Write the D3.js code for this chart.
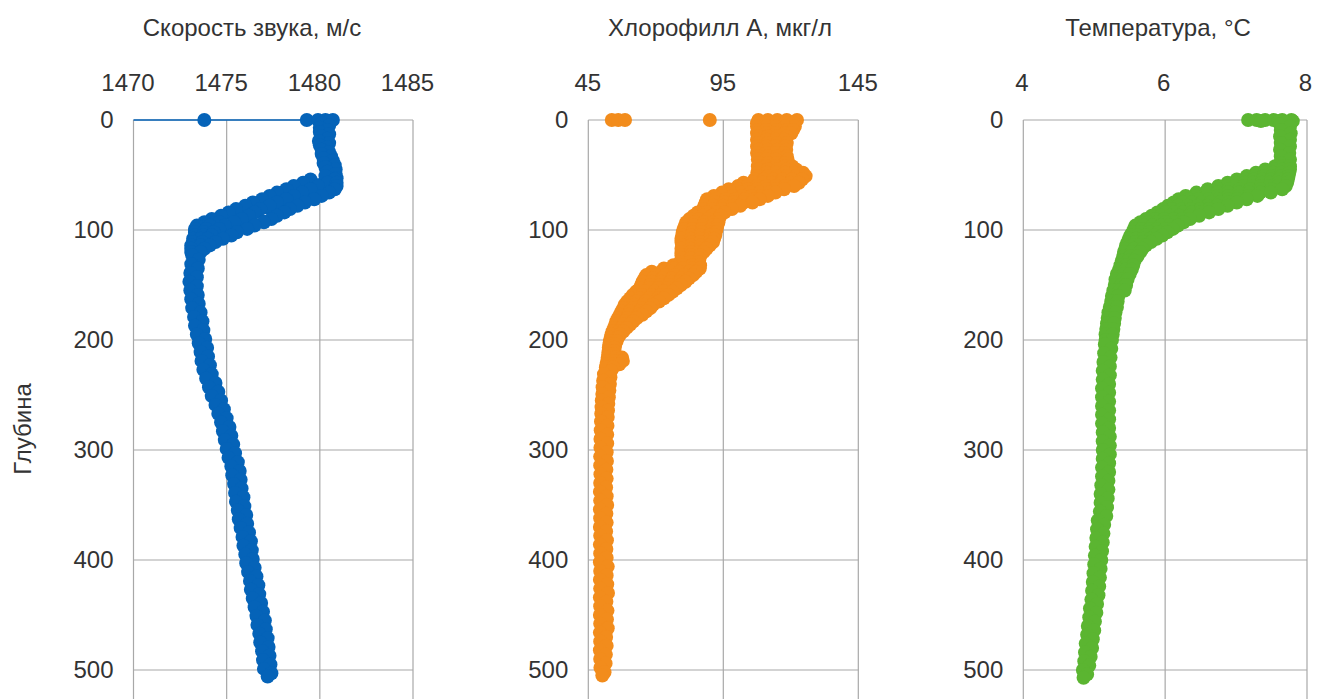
<!DOCTYPE html>
<html>
<head>
<meta charset="utf-8">
<script src="https://cdn.jsdelivr.net/npm/d3@7"></script>
<style>
    body { margin: 0; background: #fff; }
    text { font-family: "Liberation Sans", Arial, sans-serif; fill: #333; }
</style>
</head>
<body>
<svg class="profiles" width="1317" height="699"></svg>
<script>
// Axis ticks.
const depthTicks = [0, 100, 200, 300, 400, 500];
const speedTicks = [1470, 1475, 1480, 1485];
const chlTicks = [45, 95, 145];
const tempTicks = [4, 6, 8];

// Profiles as [depth, value].
const speedProfile = [
    [0, 1466], [0, 1473.8], [0, 1479.3], [0, 1479.9], [0, 1480.3], [0, 1480.7], [1, 1480.5],
    [3, 1480.1], [5, 1480.5], [7, 1480.0], [9, 1480.4], [11, 1480.0], [13, 1480.5], [15, 1480.1],
    [17, 1480.4], [19, 1479.95], [21, 1480.5], [23, 1480.0], [25, 1480.4], [27, 1480.1], [29, 1480.5],
    [31, 1480.1], [33, 1480.6], [35, 1480.2], [37, 1480.7], [39, 1480.2], [41, 1480.8], [43, 1480.3],
    [45, 1480.85], [47, 1480.4], [49, 1480.85], [51, 1480.3], [53, 1480.9],
    [54, 1479.5], [54, 1480.8],
    [57, 1479.1], [57, 1480.4], [57, 1480.9],
    [60, 1478.6], [60, 1479.9], [60, 1480.9],
    [63, 1478.2], [63, 1479.5], [63, 1480.8],
    [66, 1477.7], [66, 1479.05], [66, 1480.5],
    [69, 1477.3], [69, 1478.6], [69, 1480.1],
    [72, 1476.9], [72, 1478.2], [72, 1479.7],
    [75, 1476.4], [75, 1477.7], [75, 1479.2],
    [78, 1476.0], [78, 1477.3], [78, 1478.8],
    [81, 1475.5], [81, 1476.8], [81, 1478.4],
    [84, 1475.1], [84, 1476.5], [84, 1478.1],
    [87, 1474.7], [87, 1476.2], [87, 1477.7],
    [90, 1474.2], [90, 1475.8], [90, 1477.4],
    [93, 1473.8], [93, 1474.6], [93, 1475.4], [93, 1477.0],
    [96, 1473.4], [96, 1474.1], [96, 1474.9], [96, 1476.5],
    [99, 1473.3], [99, 1473.9], [99, 1474.6], [99, 1476.1],
    [102, 1473.3], [102, 1473.8], [102, 1474.3], [102, 1475.55],
    [105, 1473.3], [105, 1473.75], [105, 1474.2], [105, 1475.25],
    [108, 1473.2], [108, 1473.6], [108, 1474.0], [108, 1474.8],
    [111, 1473.2], [111, 1473.7], [111, 1474.4], [114, 1473.1], [114, 1473.6], [114, 1474.1],
    [117, 1473.1], [117, 1473.8], [120, 1473.1], [120, 1473.6],
    [123, 1473.15], [127, 1473.5], [131, 1473.1], [135, 1473.45], [139, 1473.05], [143, 1473.4],
    [147, 1473.0], [151, 1473.4], [155, 1473.05], [159, 1473.45], [163, 1473.1], [167, 1473.5],
    [171, 1473.15], [175, 1473.6], [179, 1473.25], [183, 1473.7], [187, 1473.3], [191, 1473.75],
    [195, 1473.4], [199, 1473.85], [203, 1473.5], [207, 1473.95], [211, 1473.6], [215, 1474.0],
    [219, 1473.65], [223, 1474.1], [227, 1473.75], [231, 1474.2], [235, 1473.9], [239, 1474.4],
    [243, 1474.05], [247, 1474.55], [251, 1474.2], [255, 1474.7], [259, 1474.4], [263, 1474.85],
    [267, 1474.55], [271, 1475.0], [275, 1474.7], [279, 1475.15], [283, 1474.8], [287, 1475.25],
    [291, 1474.9], [295, 1475.35], [299, 1475.0], [303, 1475.45], [307, 1475.1], [311, 1475.6],
    [315, 1475.25], [319, 1475.7], [323, 1475.3], [327, 1475.75], [331, 1475.4], [335, 1475.8],
    [339, 1475.45], [343, 1475.9], [347, 1475.5], [351, 1475.95], [355, 1475.6], [359, 1476.05],
    [363, 1475.65], [367, 1476.1], [371, 1475.75], [375, 1476.2], [379, 1475.85], [383, 1476.3],
    [387, 1475.9], [391, 1476.35], [395, 1476.0], [399, 1476.4], [403, 1476.05], [407, 1476.5],
    [411, 1476.15], [415, 1476.6], [419, 1476.25], [423, 1476.7], [427, 1476.3], [431, 1476.75],
    [435, 1476.4], [439, 1476.85], [443, 1476.5], [447, 1476.95], [451, 1476.6], [455, 1477.05],
    [459, 1476.65], [463, 1477.1], [467, 1476.75], [471, 1477.2], [475, 1476.8], [479, 1477.25],
    [483, 1476.9], [487, 1477.3], [491, 1476.95], [495, 1477.35], [499, 1477.0], [503, 1477.4],
    [506, 1477.2]
];

const chlProfile = [
    [0, 53.7], [0, 56.1], [0, 58.6], [0, 90], [0, 108], [0, 111.5], [0, 115], [0, 118.5], [0, 122.3],
    [3, 107.5], [3, 111], [3, 114.5], [3, 118], [3, 121],
    [6, 107.5], [6, 111], [6, 114.5], [6, 118], [6, 121.5],
    [9, 107.8], [9, 111], [9, 115], [9, 118.5], [9, 120.8],
    [12, 107.5], [12, 111], [12, 114.5], [12, 118], [12, 120.2],
    [15, 108], [15, 111.5], [15, 115], [15, 118.5],
    [18, 107.5], [18, 111], [18, 114.5], [18, 117.8],
    [21, 107.8], [21, 111.5], [21, 115], [21, 118.5],
    [24, 107.5], [24, 111], [24, 114.5], [24, 118],
    [27, 108], [27, 111.5], [27, 115], [27, 118.3],
    [30, 107.5], [30, 111], [30, 114.5], [30, 117.5],
    [33, 108], [33, 111.5], [33, 115], [33, 118.5],
    [36, 107.8], [36, 111], [36, 114.5], [36, 118.8],
    [39, 108.2], [39, 111.5], [39, 115], [39, 118],
    [42, 107.8], [42, 111], [42, 114.5], [42, 118], [42, 120.5],
    [45, 108], [45, 111.5], [45, 115], [45, 118.5], [45, 122],
    [48, 107.6], [48, 111], [48, 114.5], [48, 118], [48, 121.5], [48, 124.5],
    [51, 108], [51, 111.5], [51, 115], [51, 118.5], [51, 122], [51, 125.5],
    [54, 106.5], [54, 110], [54, 113.5], [54, 117], [54, 120.5], [54, 124.2],
    [57, 102.5], [57, 106], [57, 109.5], [57, 113], [57, 116.5], [57, 120], [57, 123],
    [60, 100.5], [60, 104], [60, 107.5], [60, 111], [60, 114.5], [60, 118], [60, 121.2],
    [63, 97], [63, 100.5], [63, 104], [63, 107.5], [63, 111], [63, 114.5], [63, 117.5],
    [66, 94.5], [66, 98], [66, 101.5], [66, 105], [66, 108.5], [66, 112], [66, 114.3],
    [69, 91.5], [69, 95], [69, 98.5], [69, 102], [69, 105.5], [69, 109], [69, 111.5],
    [72, 89], [72, 92.5], [72, 96], [72, 99.5], [72, 103], [72, 106.5], [72, 108.5],
    [75, 88.5], [75, 92], [75, 95.5], [75, 99], [75, 102.5], [75, 105.8],
    [78, 88], [78, 91.5], [78, 95], [78, 98.5], [78, 101.3],
    [81, 87.5], [81, 91], [81, 94.5], [81, 98.2],
    [84, 85.5], [84, 89], [84, 92.5], [84, 95.5],
    [87, 84], [87, 87.5], [87, 91], [87, 94],
    [90, 82.5], [90, 86], [90, 89.5], [90, 93.3],
    [93, 81.3], [93, 84.5], [93, 88], [93, 91.5], [93, 93.2],
    [96, 80.8], [96, 84], [96, 87.5], [96, 91], [96, 92.8],
    [99, 80.3], [99, 83.5], [99, 87], [99, 90.5], [99, 92.5],
    [102, 80], [102, 83.5], [102, 87], [102, 90.5], [102, 92.2],
    [105, 79.8], [105, 83], [105, 86.5], [105, 90], [105, 92],
    [108, 79.5], [108, 83], [108, 86.5], [108, 89.8], [108, 91.6],
    [111, 79.5], [111, 83], [111, 86.5], [111, 89.8], [111, 91.2],
    [114, 79.8], [114, 83], [114, 86.5], [114, 90],
    [117, 79.5], [117, 83], [117, 86.5], [117, 88.8],
    [120, 79.5], [120, 83], [120, 86], [120, 87.7],
    [123, 79.5], [123, 83], [123, 86.5],
    [126, 79.8], [126, 83], [126, 86.2],
    [129, 79], [129, 82.5], [129, 86],
    [132, 76.5], [132, 80], [132, 83.5], [132, 86.4],
    [135, 73], [135, 76.5], [135, 80], [135, 83.5], [135, 86.3],
    [138, 68.5], [138, 72], [138, 75.5], [138, 79], [138, 82.5], [138, 85],
    [141, 66.5], [141, 70], [141, 73.5], [141, 77], [141, 80.5], [141, 83.8],
    [144, 65.8], [144, 69], [144, 72.5], [144, 76], [144, 79.5], [144, 82.3],
    [147, 65.1], [147, 68.5], [147, 72], [147, 75.5], [147, 79], [147, 81],
    [150, 64.6], [150, 68], [150, 71.5], [150, 75], [150, 79.3],
    [153, 64.1], [153, 67.5], [153, 71], [153, 74.5], [153, 77.8],
    [156, 62.7], [156, 66], [156, 69.5], [156, 73], [156, 76.3],
    [159, 61.5], [159, 65], [159, 68.5], [159, 71.8], [159, 74.7],
    [162, 60.5], [162, 64], [162, 67.5], [162, 71], [162, 73],
    [165, 59.4], [165, 62.8], [165, 66.3], [165, 69.8], [165, 71.2],
    [168, 58.5], [168, 62], [168, 65.5], [168, 69],
    [171, 58], [171, 61.5], [171, 65], [171, 68],
    [174, 57.3], [174, 60.5], [174, 64], [174, 66.5],
    [177, 56.7], [177, 60], [177, 63.5], [177, 65],
    [180, 56], [180, 59.5], [180, 63],
    [183, 55.4], [183, 58.5], [183, 61.7],
    [186, 55], [186, 57.8], [186, 60.5],
    [189, 54.5], [189, 57.2], [189, 59.2],
    [192, 54], [192, 56.5], [192, 58],
    [195, 53.6], [195, 56.8], [198, 53.3], [198, 56], [201, 53], [201, 55.5],
    [204, 52.8], [204, 55], [207, 52.6], [207, 54.8], [210, 52.5], [210, 54.7],
    [213, 52.4], [213, 54.5], [216, 52.2], [216, 55], [216, 57.5],
    [219, 52], [219, 55], [219, 57.8], [222, 51.8], [222, 54.5], [222, 56.5],
    [225, 51.5], [225, 54.2],
    [228, 53.5], [231, 50.8], [234, 53.2], [237, 50.5], [240, 53], [243, 50.3], [246, 52.8],
    [249, 50.2], [252, 52.6], [255, 50], [258, 52.4], [261, 49.9], [264, 52.3], [267, 49.8],
    [270, 52.2], [274, 49.7], [278, 52.1], [282, 49.6], [286, 52], [290, 49.5], [294, 52],
    [298, 49.5], [302, 51.8], [306, 49.4], [310, 51.9], [314, 49.4], [318, 51.7], [322, 49.5],
    [326, 51.8], [330, 49.4], [334, 51.6], [338, 49.3], [342, 51.8], [346, 49.4], [350, 52],
    [354, 49.3], [358, 51.7], [362, 49.4], [366, 51.8], [370, 49.3], [374, 51.6], [378, 49.4],
    [382, 51.9], [386, 49.3], [390, 51.7], [394, 49.4], [398, 51.8], [402, 49.3], [406, 52.2],
    [410, 49.4], [414, 51.8], [418, 49.3], [422, 52], [426, 49.4], [430, 52.3], [434, 49.3],
    [438, 51.7], [442, 49.4], [446, 52.1], [450, 49.3], [454, 51.9], [458, 49.4], [462, 52.2],
    [466, 49.3], [470, 51.6], [474, 49.4], [478, 51.8], [482, 49.3], [486, 51.5], [490, 49.4],
    [494, 51.4], [498, 49.5], [502, 51], [505, 50.2]
];

const tempProfile = [
    [0, 7.17], [0, 7.29], [0, 7.41], [0, 7.53], [0, 7.65], [0, 7.78], [1, 7.35], [1, 7.6], [1, 7.8],
    [2, 7.7], [4, 7.62], [6, 7.76], [9, 7.63], [12, 7.77], [15, 7.62], [18, 7.76], [21, 7.63],
    [24, 7.76], [27, 7.62], [30, 7.75], [33, 7.63], [36, 7.76], [39, 7.62],
    [42, 7.55], [42, 7.66], [42, 7.76],
    [45, 7.41], [45, 7.53], [45, 7.65], [45, 7.76],
    [48, 7.28], [48, 7.4], [48, 7.52], [48, 7.64], [48, 7.75],
    [51, 7.15], [51, 7.27], [51, 7.39], [51, 7.51], [51, 7.63], [51, 7.74],
    [54, 7.01], [54, 7.13], [54, 7.25], [54, 7.37], [54, 7.49], [54, 7.61], [54, 7.73],
    [57, 6.88], [57, 7.0], [57, 7.12], [57, 7.24], [57, 7.36], [57, 7.48], [57, 7.6], [57, 7.72],
    [60, 6.75], [60, 6.87], [60, 6.99], [60, 7.11], [60, 7.23], [60, 7.35], [60, 7.47], [60, 7.59], [60, 7.7],
    [63, 6.6], [63, 6.75], [63, 6.9], [63, 7.05], [63, 7.2], [63, 7.35], [63, 7.5], [63, 7.65],
    [66, 6.44], [66, 6.59], [66, 6.74], [66, 6.89], [66, 7.04], [66, 7.19], [66, 7.34], [66, 7.49],
    [69, 6.29], [69, 6.44], [69, 6.59], [69, 6.74], [69, 6.89], [69, 7.04], [69, 7.18], [69, 7.3],
    [72, 6.19], [72, 6.33], [72, 6.47], [72, 6.61], [72, 6.75], [72, 6.89], [72, 7.02], [72, 7.15],
    [75, 6.12], [75, 6.25], [75, 6.38], [75, 6.51], [75, 6.64], [75, 6.77], [75, 6.9], [75, 7.01],
    [78, 6.04], [78, 6.18], [78, 6.32], [78, 6.46], [78, 6.6], [78, 6.74], [78, 6.88],
    [81, 5.97], [81, 6.1], [81, 6.23], [81, 6.36], [81, 6.49], [81, 6.62], [81, 6.75],
    [84, 5.89], [84, 6.01], [84, 6.13], [84, 6.25], [84, 6.38], [84, 6.5], [84, 6.62],
    [87, 5.81], [87, 5.94], [87, 6.07], [87, 6.2], [87, 6.34], [87, 6.48],
    [90, 5.73], [90, 5.86], [90, 5.99], [90, 6.12], [90, 6.24], [90, 6.35],
    [93, 5.65], [93, 5.77], [93, 5.89], [93, 6.01], [93, 6.14], [93, 6.26],
    [96, 5.58], [96, 5.7], [96, 5.82], [96, 5.94], [96, 6.06], [96, 6.18],
    [99, 5.56], [99, 5.67], [99, 5.78], [99, 5.89], [99, 6.0], [99, 6.11],
    [102, 5.54], [102, 5.66], [102, 5.78], [102, 5.9], [102, 6.03],
    [105, 5.51], [105, 5.62], [105, 5.73], [105, 5.85], [105, 5.96],
    [108, 5.49], [108, 5.59], [108, 5.69], [108, 5.79], [108, 5.88],
    [111, 5.47], [111, 5.58], [111, 5.69], [111, 5.8],
    [114, 5.45], [114, 5.55], [114, 5.64], [114, 5.73],
    [117, 5.44], [117, 5.56], [117, 5.68], [120, 5.42], [120, 5.53], [120, 5.65],
    [124, 5.41], [124, 5.51], [124, 5.61], [128, 5.39], [128, 5.48], [128, 5.57],
    [132, 5.37], [132, 5.46], [132, 5.55], [136, 5.35], [136, 5.44], [136, 5.53],
    [140, 5.32], [140, 5.42], [140, 5.5], [145, 5.3], [145, 5.4], [145, 5.47],
    [150, 5.29], [150, 5.38], [150, 5.45], [155, 5.27], [155, 5.36], [155, 5.43],
    [160, 5.25], [160, 5.34], [165, 5.24], [165, 5.33], [170, 5.22], [170, 5.32],
    [175, 5.2], [175, 5.3], [180, 5.19], [180, 5.29], [185, 5.18], [185, 5.28],
    [190, 5.17], [190, 5.27], [195, 5.16], [195, 5.26], [200, 5.16], [200, 5.25],
    [204, 5.15], [208, 5.24], [212, 5.14], [216, 5.23], [220, 5.13], [224, 5.22], [228, 5.12],
    [232, 5.22], [236, 5.12], [240, 5.21], [244, 5.11], [248, 5.21], [252, 5.11], [256, 5.21],
    [260, 5.11], [264, 5.21], [268, 5.11], [272, 5.21], [276, 5.11], [280, 5.21], [284, 5.12],
    [288, 5.22], [292, 5.12], [296, 5.22], [300, 5.12], [304, 5.22], [308, 5.12], [312, 5.21],
    [316, 5.11], [320, 5.21], [324, 5.11], [328, 5.2], [332, 5.1], [336, 5.2], [340, 5.09],
    [344, 5.19], [348, 5.09], [352, 5.18], [356, 5.08], [360, 5.17], [364, 5.05], [368, 5.14],
    [372, 5.04], [376, 5.13], [380, 5.03], [384, 5.12], [388, 5.02], [392, 5.11], [396, 5.01],
    [400, 5.1], [404, 5.0], [408, 5.09], [412, 4.99], [416, 5.08], [420, 4.98], [424, 5.07],
    [428, 4.97], [432, 5.06], [436, 4.96], [440, 5.04], [444, 4.94], [448, 5.03], [452, 4.93],
    [456, 5.01], [460, 4.91], [464, 5.0], [468, 4.9], [472, 4.98], [476, 4.88], [480, 4.97],
    [484, 4.87], [488, 4.95], [492, 4.86], [496, 4.93], [500, 4.84], [504, 4.9], [507, 4.85]
];

let svg = d3.select(".profiles");

let chartAttr = {
    top: 120,
    bottom: 780,
    depthMax: 600,
    markerRadius: 7,
    fontSize: 24,
    gridColor: "#a8a8a8"
};

let panels = [
    { title: "Скорость звука, м/с", titleX: 252, left: 133.5, right: 413, labelShift: -6, ticks: speedTicks, data: speedProfile, color: "#0563b8", line: true },
    { title: "Хлорофилл А, мкг/л", titleX: 720, left: 588.3, right: 858.3, labelShift: -1, ticks: chlTicks, data: chlProfile, color: "#f28c1c", line: false },
    { title: "Температура, °C", titleX: 1158, left: 1023.3, right: 1307, labelShift: -2, ticks: tempTicks, data: tempProfile, color: "#5bb531", line: false }
];

function drawText(g, text, attr) {
    return g.append("text")
        .attr("x", attr.x)
        .attr("y", attr.y)
        .attr("text-anchor", attr.textAnchor == null ? "middle" : attr.textAnchor)
        .attr("transform", attr.transform == null ? null : attr.transform)
        .style("font-size", (attr.fontSize == null ? chartAttr.fontSize : attr.fontSize) + "px")
        .text(text);
}

function drawProfilePanel(svg, panel, index) {
    let xScale = d3.scaleLinear()
        .domain(d3.extent(panel.ticks))
        .range([panel.left, panel.right]);
    let yScale = d3.scaleLinear()
        .domain([0, chartAttr.depthMax])
        .range([chartAttr.top, chartAttr.bottom]);

    let g = svg.append("g");

    // Draw gridlines.
    g.selectAll(".vgrid")
        .data(panel.ticks)
        .enter().append("line")
        .attr("x1", d => xScale(d))
        .attr("x2", d => xScale(d))
        .attr("y1", chartAttr.top)
        .attr("y2", chartAttr.bottom)
        .attr("stroke", chartAttr.gridColor)
        .attr("stroke-width", 1.2);
    g.selectAll(".hgrid")
        .data(depthTicks)
        .enter().append("line")
        .attr("x1", panel.left)
        .attr("x2", panel.right)
        .attr("y1", d => yScale(d))
        .attr("y2", d => yScale(d))
        .attr("stroke", chartAttr.gridColor)
        .attr("stroke-width", 1.2);

    // Draw top value axis.
    let xAxis = g.append("g")
        .attr("transform", "translate(" + panel.labelShift + "," + chartAttr.top + ")")
        .call(d3.axisTop(xScale).tickValues(panel.ticks).tickFormat(d => d).tickSize(0).tickPadding(29));
    xAxis.select(".domain").remove();
    xAxis.selectAll("text")
        .style("font-size", chartAttr.fontSize + "px")
        .attr("fill", "#333");

    // Draw left depth axis.
    let yAxis = g.append("g")
        .attr("transform", "translate(" + panel.left + ",0)")
        .call(d3.axisLeft(yScale).tickValues(depthTicks).tickFormat(d => d).tickSize(0).tickPadding(20));
    yAxis.select(".domain").remove();
    yAxis.selectAll("text")
        .style("font-size", chartAttr.fontSize + "px")
        .attr("fill", "#333");

    // Draw title.
    drawText(g, panel.title, { x: panel.titleX, y: 36 });

    // Draw connecting line, clipped to plot area.
    if (panel.line) {
        svg.append("clipPath")
            .attr("id", "plotClip" + index)
            .append("rect")
            .attr("x", panel.left)
            .attr("y", chartAttr.top - 10)
            .attr("width", panel.right - panel.left)
            .attr("height", chartAttr.bottom - chartAttr.top + 10);
        let lineGen = d3.line()
            .x(d => xScale(d[1]))
            .y(d => yScale(d[0]));
        g.append("path")
            .attr("d", lineGen(panel.data))
            .attr("clip-path", "url(#plotClip" + index + ")")
            .attr("fill", "none")
            .attr("stroke", panel.color)
            .attr("stroke-width", 1.6);
    }

    // Draw markers (points outside the value range are hidden).
    let domain = xScale.domain();
    g.selectAll(".marker")
        .data(panel.data.filter(d => d[1] >= domain[0] && d[1] <= domain[1]))
        .enter().append("circle")
        .attr("cx", d => xScale(d[1]))
        .attr("cy", d => yScale(d[0]))
        .attr("r", chartAttr.markerRadius)
        .attr("fill", panel.color);
}

panels.forEach((panel, i) => drawProfilePanel(svg, panel, i));

// Draw depth axis title.
drawText(svg, "Глубина", { x: 0, y: 0, transform: "translate(31,429) rotate(-90)" });
</script>
</body>
</html>
